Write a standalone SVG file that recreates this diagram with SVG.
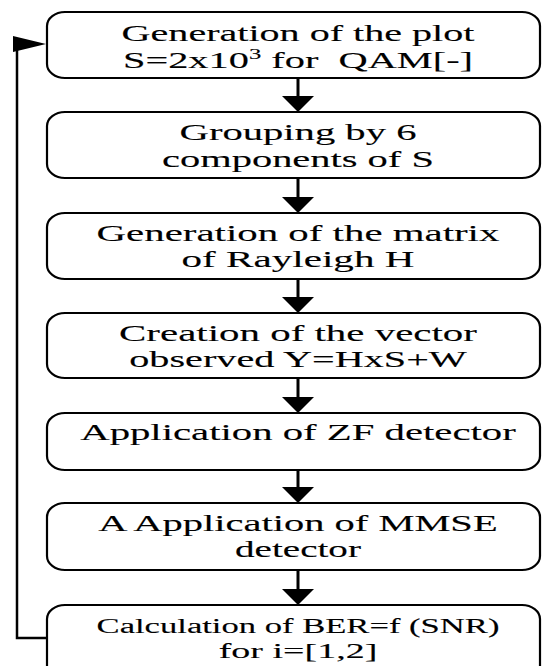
<svg xmlns="http://www.w3.org/2000/svg" width="543" height="666" viewBox="0 0 543 666">
  <style>
    .box { fill: #ffffff; stroke: #000000; stroke-width: 2.2; }
    .lbl { font-family: "Liberation Serif", "Times New Roman", serif; font-size: 23px; fill: #000000; stroke: #000000; stroke-width: 0.12; text-anchor: middle; white-space: pre; }
    .sm { font-size: 20px; }
    .flow { fill: none; stroke: #000000; stroke-width: 3; }
    .loop { fill: none; stroke: #000000; stroke-width: 2.5; }
  </style>
  <defs>
    <marker id="head" viewBox="0 0 16 32" refX="1" refY="16" markerWidth="16" markerHeight="32" markerUnits="userSpaceOnUse" orient="auto">
      <path d="M0,0 L16,16 L0,32 Z" fill="#000000"/>
    </marker>
  </defs>
  <rect width="543" height="666" fill="#ffffff"/>

  <!-- connectors -->
  <g id="connectors">
    <line class="flow" x1="298" y1="78" x2="298" y2="97" marker-end="url(#head)"/>
    <line class="flow" x1="298" y1="178" x2="298" y2="198" marker-end="url(#head)"/>
    <line class="flow" x1="298" y1="279" x2="298" y2="298" marker-end="url(#head)"/>
    <line class="flow" x1="298" y1="378" x2="298" y2="398" marker-end="url(#head)"/>
    <line class="flow" x1="298" y1="470" x2="298" y2="488" marker-end="url(#head)"/>
    <line class="flow" x1="298" y1="570" x2="298" y2="590" marker-end="url(#head)"/>
    <!-- feedback loop from the BER step back to the first step -->
    <path class="loop" d="M47,638 H17 V44 H30"/>
    <polygon points="13,36 13,52 46,44" fill="#000000"/>
  </g>

  <!-- labels are set in a serif face and widened horizontally -->
  <g id="n1">
    <rect class="box" x="47" y="12" width="493" height="66" rx="18" ry="14"/>
    <text class="lbl" transform="translate(298,41) scale(1.743,1)">Generation of the plot</text>
    <text class="lbl" transform="translate(298,68) scale(1.755,1)">S=2x10<tspan font-size="14" dy="-9">3</tspan><tspan dy="9"> for  QAM[-]</tspan></text>
  </g>

  <g id="n2">
    <rect class="box" x="47" y="112" width="493" height="66" rx="18" ry="14"/>
    <text class="lbl" transform="translate(298,140) scale(1.766,1)">Grouping by 6</text>
    <text class="lbl" transform="translate(298,167) scale(1.759,1)">components of S</text>
  </g>

  <g id="n3">
    <rect class="box" x="47" y="213" width="493" height="66" rx="18" ry="14"/>
    <text class="lbl" transform="translate(298,241) scale(1.777,1)">Generation of the matrix</text>
    <text class="lbl" transform="translate(298,267) scale(1.788,1)">of Rayleigh H</text>
  </g>

  <g id="n4">
    <rect class="box" x="47" y="313" width="493" height="65" rx="18" ry="14"/>
    <text class="lbl" transform="translate(298,341) scale(1.779,1)">Creation of the vector</text>
    <text class="lbl" transform="translate(298,367) scale(1.748,1)">observed Y=HxS+W</text>
  </g>

  <g id="n5">
    <rect class="box" x="47" y="413" width="493" height="57" rx="18" ry="14"/>
    <text class="lbl" transform="translate(298,440) scale(1.772,1)">Application of ZF detector</text>
  </g>

  <g id="n6">
    <rect class="box" x="47" y="503" width="493" height="67" rx="18" ry="14"/>
    <text class="lbl" transform="translate(298,531) scale(1.761,1)">A Application of MMSE</text>
    <text class="lbl" transform="translate(298,557) scale(1.70,1)">detector</text>
  </g>

  <g id="n7">
    <rect class="box" x="47" y="605" width="493" height="80" rx="18" ry="14"/>
    <text class="lbl sm" transform="translate(298,633) scale(1.73,1)">Calculation of BER=f (SNR)</text>
    <text class="lbl sm" transform="translate(298,658) scale(1.9,1)">for i=[1,2]</text>
  </g>
</svg>
